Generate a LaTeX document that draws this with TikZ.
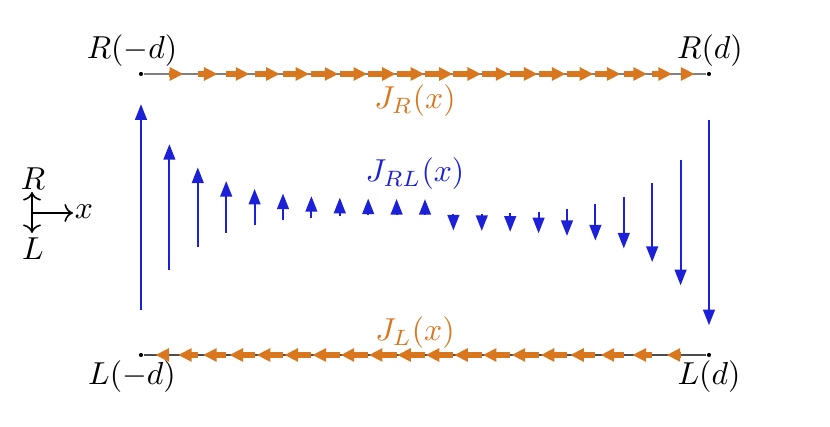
\documentclass[tikz,border=0pt]{standalone}
\usepackage{amsmath}
\usepackage{amssymb}
\usetikzlibrary{arrows.meta}
\definecolor{jorange}{RGB}{217,119,30}
\definecolor{jblue}{RGB}{28,32,214}

\begin{document}
\begin{tikzpicture}
  [x=0.315pt,y=-0.315pt,
   dot/.style={circle,fill=black,inner sep=0pt,minimum size=1.3pt},
   jrl/.style={jblue,line width=0.6pt,-{Triangle[length=4.9pt,width=3.7pt]}},
   jcur/.style={jorange,line width=1.7pt,-{Triangle[length=4.3pt,width=4pt]}}]
  \useasboundingbox (0,0) rectangle (830,427);

  % edge end points
  \node[dot] (rm) at (141,74)  {};
  \node[dot] (rp) at (709,74)  {};
  \node[dot] (lm) at (141,355) {};
  \node[dot] (lp) at (709,355) {};
  \draw[gray,line width=0.35pt] (rm) -- (rp);
  \draw[black!70,line width=0.35pt] (lm) -- (lp);

  \node (rmlab) at (132,51)  {$R(-d)$};
  \node (rplab) at (710,51)  {$R(d)$};
  \node (lmlab) at (132,377) {$L(-d)$};
  \node (lplab) at (709,377) {$L(d)$};

  % edge currents
  \foreach \j in {1,...,19}{
    \pgfmathsetmacro\len{28-0.217*cosh(5.4*(\j-10)/10)}
    \draw[jcur] (141+28.4*\j,74) -- ++(\len,0);
    \draw[jcur] (141+28.4*\j,355) -- ++(-\len,0);
  }
  \node[text=jorange] (jr) at (415,101) {$J_R(x)$};
  \node[text=jorange] (jl) at (415,333) {$J_L(x)$};

  % tunnelling current
  \foreach \j in {0,...,20}{
    \pgfmathsetmacro\len{14+1.73*cosh(5.4*(\j-10)/10)}
    \ifnum\j<11
      \draw[jrl] (141+28.4*\j,207+\len/2) -- (141+28.4*\j,207-\len/2);
    \else
      \draw[jrl] (141+28.4*\j,222.5-\len/2) -- (141+28.4*\j,222.5+\len/2);
    \fi
  }
  \node[text=jblue] (jrl) at (415,174) {$J_{RL}(x)$};

  % axes
  \coordinate (o)  at (32,213);
  \coordinate (up) at (32,192);
  \coordinate (dn) at (32,233);
  \coordinate (rt) at (73,213);
  \draw[line width=0.5pt,{To}-{To}] (up) -- (dn);
  \draw[line width=0.5pt,-{To}] (o) -- (rt);
  \node (R) at (33,179) {$R$};
  \node (L) at (33,249) {$L$};
  \node (x) at (84,212) {$x$};
\end{tikzpicture}
\end{document}
